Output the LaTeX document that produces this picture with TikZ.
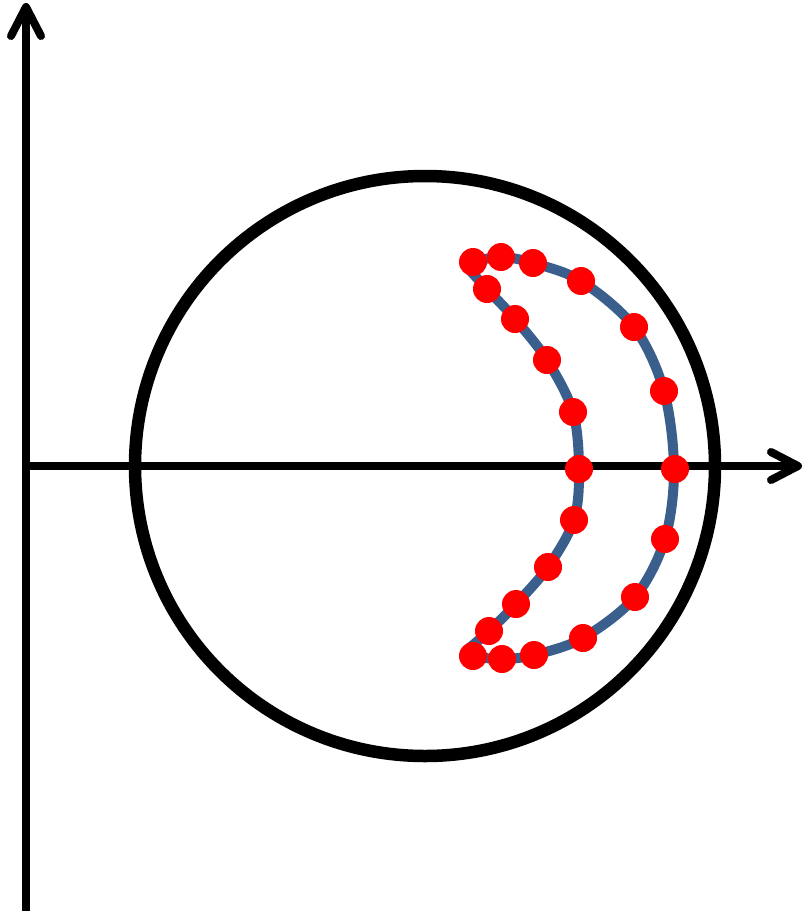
\documentclass[tikz,border=0pt]{standalone}
\usetikzlibrary{calc}
\definecolor{crescentblue}{RGB}{58,95,140}
\definecolor{dotred}{RGB}{255,0,0}
\begin{document}
\begin{tikzpicture}[x=1pt,y=-1pt,
  axisline/.style={line width=8pt, black},
  barb/.style={line width=8pt, black, line cap=round, line join=round},
  ring/.style={line width=12.5pt, black},
  crescent/.style={line width=10pt, crescentblue, line join=round},
  sample/.style={circle, fill=dotred, inner sep=0pt, minimum size=28pt}]
\useasboundingbox (0,0) rectangle (804,911);
% axes
\coordinate (bot) at (26,911);
\coordinate (ytip) at (26,7);
\coordinate (orig) at (26,466);
\coordinate (xtip) at (798,466);
\draw[axisline] (bot) -- ($(ytip)+(0,4)$);
\draw[barb] ($(ytip)+(-15,29)$) -- (ytip) -- ($(ytip)+(15,29)$);
\draw[axisline] ($(orig)+(-4,0)$) -- ($(xtip)+(-4,0)$);
\draw[barb] ($(xtip)+(-27,-14)$) -- (xtip) -- ($(xtip)+(-27,14)$);
% circle
\coordinate (cc) at (425,466);
\draw[ring] (cc) circle[radius=290];
% crescent
\draw[crescent] plot[smooth, tension=0.55] coordinates {(466,266) (473,262) (501,257) (533,263) (581,281) (634,327) (664,391) (674,469) (665,539) (635,597) (583,638) (534,655) (502,659) (473,656) (467,650)}
 -- plot[smooth, tension=0.55] coordinates {(467,650) (489,631) (516,604) (548,567) (574,520) (579,469) (573,412) (547,360) (515,319) (487,289) (466,266)} -- cycle;
% dots
\foreach \n/\p in {o1/{(473,262)}, o2/{(501,257)}, o3/{(533,263)}, o4/{(581,281)}, o5/{(634,327)}, o6/{(664,391)}, o7/{(675,469)}, o8/{(665,539)}, o9/{(635,597)}, o10/{(583,638)}, o11/{(534,655)}, o12/{(502,659)}, o13/{(473,656)},
  i1/{(489,631)}, i2/{(516,604)}, i3/{(548,567)}, i4/{(574,520)}, i5/{(579,469)}, i6/{(573,412)}, i7/{(547,360)}, i8/{(515,319)}, i9/{(487,289)}}
  \node[sample] (\n) at \p {};
\end{tikzpicture}
\end{document}
